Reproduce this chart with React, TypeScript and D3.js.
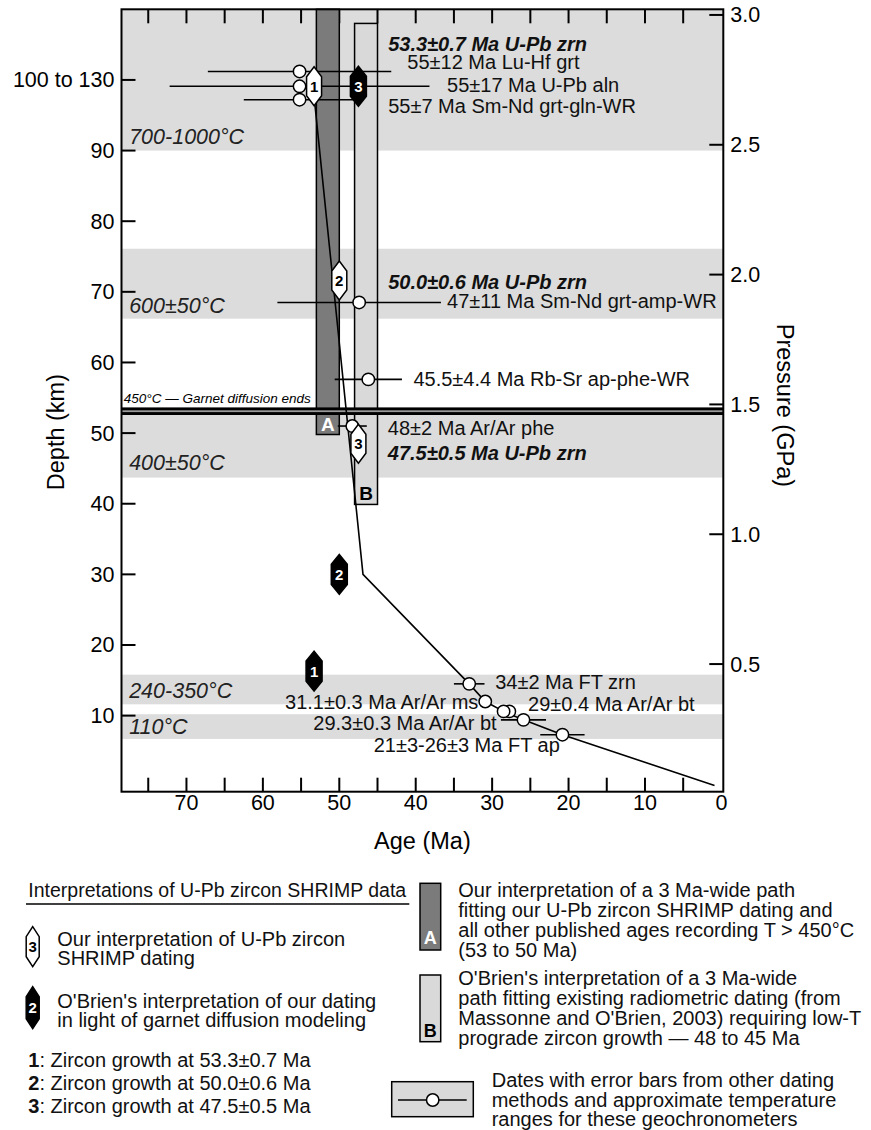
import * as d3 from "d3";

const FONT = '"Liberation Sans", Arial, Helvetica, sans-serif';

// age axis (Ma)
const ageTicks = [75, 70, 65, 60, 55, 50, 45, 40, 35, 30, 25, 20, 15, 10, 5];
const ageLabels = [70, 60, 50, 40, 30, 20, 10, 0];
// depth axis (km)
const depthTicks = [100, 90, 80, 70, 60, 50, 40, 30, 20, 10];
// pressure axis (GPa) and the depths (km) where 0.5 and 3.0 GPa sit
const pressureTicks = [0.5, 1.0, 1.5, 2.0, 2.5, 3.0];
const pressureDepthAt = [17.3, 109.2];

// temperature ranges of the geochronometers
const bandNames = ["700-1000°C", "600±50°C", "400±50°C", "240-350°C", "110°C"];
const bandTop = [110, 76.1, 53.0, 15.8, 10.2];
const bandBottom = [90, 66.2, 43.7, 11.6, 6.7];
const bandLabelDepth = [90.9, 67.0, 44.8, 12.45, 7.4];

// 3 Ma wide paths A and B
const pathAAges = [53, 50];
const pathADepths = [49.8, 110];
const pathBAges = [48, 45];
const pathBDepths = [39.9, 108];

// garnet diffusion ends at 450°C
const garnetDepth = 53.1;

// P-T-t path
const pathAge = [53.2, 46.9, 33.0, 30.9, 28.5, 25.9, 20.8, 0.9];
const pathDepth = [96.6, 30.0, 14.5, 12.0, 10.6, 9.4, 7.3, 0.1];

// dates from other methods (drawn back to front)
const dateAge = [55.2, 55.2, 55.2, 47.4, 46.2, 48.3, 33.0, 30.9, 27.75, 28.5, 25.9, 20.8];
const dateErr = [12, 17, 7.3, 10.7, 4.4, 1.9, 2, 0.3, 0.4, 0.3, 2.95, 2.9];
const dateDepth = [101.2, 99.1, 97.2, 68.5, 57.6, 51.0, 14.5, 12.0, 10.6, 10.6, 9.4, 7.3];

// U-Pb zircon SHRIMP ages: ours (white) and O'Brien's reading (black)
const zirconAge = [53.3, 50.0, 47.5];
const zirconDepthOurs = [99.1, 71.6, 48.5];
const zirconDepthOBrien = [16.3, 30.0, 99.1];

// labels of the dates
const noteText = [
  "53.3±0.7 Ma U-Pb zrn",
  "55±12 Ma Lu-Hf grt",
  "55±17 Ma U-Pb aln",
  "55±7 Ma Sm-Nd grt-gln-WR",
  "50.0±0.6 Ma U-Pb zrn",
  "47±11 Ma Sm-Nd grt-amp-WR",
  "45.5±4.4 Ma Rb-Sr ap-phe-WR",
  "48±2 Ma Ar/Ar phe",
  "47.5±0.5 Ma U-Pb zrn",
  "34±2 Ma FT zrn",
  "29±0.4 Ma Ar/Ar bt",
  "31.1±0.3 Ma Ar/Ar ms",
  "29.3±0.3 Ma Ar/Ar bt",
  "21±3-26±3 Ma FT ap",
];
const noteAge = [43.6, 41.1, 35.9, 43.6, 43.6, 35.9, 40.3, 43.65, 43.65, 29.6, 25.3, 57.1, 53.4, 45.5];
const noteDepth = [104.1, 101.5, 98.3, 95.3, 70.4, 67.7, 56.7, 49.7, 46.2, 13.7, 10.7, 11.0, 8.0, 4.9];
const noteBold = [true, false, false, false, true, false, false, false, true, false, false, false, false, false];

function hexPoints(cx: number, cy: number, w: number, h: number, k: number) {
  return [
    [cx, cy - h / 2],
    [cx + w / 2, cy - h / 2 + k],
    [cx + w / 2, cy + h / 2 - k],
    [cx, cy + h / 2],
    [cx - w / 2, cy + h / 2 - k],
    [cx - w / 2, cy - h / 2 + k],
  ].map((q) => q.join(",")).join(" ");
}

function Zircon({ cx, cy, n, dark, w = 16, h = 40 }: { cx: number; cy: number; n: number; dark: boolean; w?: number; h?: number }) {
  return (
    <g>
      <polygon points={hexPoints(cx, cy, w, h, 10)} fill={dark ? "#000" : "#fff"} stroke="#000" strokeWidth={1.5} />
      <text x={cx} y={cy + 5.5} textAnchor="middle" fontSize={15} fontWeight="bold" fill={dark ? "#fff" : "#000"}>{n}</text>
    </g>
  );
}

export default function App() {
  const x = d3.scaleLinear().domain([78.5, -0.25]).range([121.5, 723.3]);
  const y = d3.scaleLinear().domain([-0.77, 110]).range([791.7, 9.3]);
  const p = d3.scaleLinear().domain([0.5, 3.0]).range([y(pressureDepthAt[0]), y(pressureDepthAt[1])]);
  const [left, right] = x.range();
  const [bottom, top] = y.range();
  const tick = 14;

  const line = d3.line<number>().x((i) => x(pathAge[i])).y((i) => y(pathDepth[i]));

  return (
    <svg width={871} height={1130} fontFamily={FONT} style={{ position: "absolute", left: 0, top: 0 }}>
      <rect width={871} height={1130} fill="#fff" />

      {/* temperature bands */}
      {bandNames.map((b, i) => (
        <rect key={b} x={left} width={right - left} y={y(bandTop[i])} height={y(bandBottom[i]) - y(bandTop[i])} fill="#dcdcdc" />
      ))}

      {/* ticks */}
      {ageTicks.map((a) => (
        <g key={a} stroke="#000" strokeWidth={2}>
          <line x1={x(a)} x2={x(a)} y1={top} y2={top + tick} />
          <line x1={x(a)} x2={x(a)} y1={bottom} y2={bottom - tick} />
        </g>
      ))}
      {depthTicks.map((d) => (
        <line key={d} x1={left} x2={left + tick} y1={y(d)} y2={y(d)} stroke="#000" strokeWidth={2} />
      ))}
      {pressureTicks.map((v) => (
        <line key={v} x1={right - tick} x2={right} y1={p(v)} y2={p(v)} stroke="#000" strokeWidth={2} />
      ))}

      {/* paths A and B */}
      <rect x={x(pathAAges[0])} width={x(pathAAges[1]) - x(pathAAges[0])} y={y(pathADepths[1])}
        height={y(pathADepths[0]) - y(pathADepths[1])} fill="#7b7b7b" stroke="#000" strokeWidth={1.5} />
      <text x={(x(pathAAges[0]) + x(pathAAges[1])) / 2} y={y(pathADepths[0]) - 4} textAnchor="middle"
        fontSize={19} fontWeight="bold" fill="#fff">A</text>
      <rect x={x(pathBAges[0])} width={x(pathBAges[1]) - x(pathBAges[0])} y={y(pathBDepths[1])}
        height={y(pathBDepths[0]) - y(pathBDepths[1])} fill="#d9d9d9" stroke="#000" strokeWidth={1.5} />
      <text x={(x(pathBAges[0]) + x(pathBAges[1])) / 2} y={y(pathBDepths[0]) - 4} textAnchor="middle"
        fontSize={19} fontWeight="bold" fill="#000">B</text>

      {/* garnet diffusion line */}
      <rect x={left} width={right - left} y={y(garnetDepth) - 3.8} height={7.6} fill="#000" />
      <rect x={left} width={right - left} y={y(garnetDepth) - 0.9} height={1.8} fill="#9a9a9a" />
      <text x={x(78.2)} y={y(54.2)} fontSize={13.5} fontStyle="italic">450°C — Garnet diffusion ends</text>

      {/* error bars */}
      {dateAge.map((a, i) => (
        <line key={i} x1={x(a + dateErr[i])} x2={x(a - dateErr[i])} y1={y(dateDepth[i])} y2={y(dateDepth[i])}
          stroke="#000" strokeWidth={1.6} />
      ))}

      {/* P-T-t path */}
      <path d={line(d3.range(pathAge.length)) || ""} fill="none" stroke="#000" strokeWidth={1.6} />

      {/* dates */}
      {dateAge.map((a, i) => (
        <circle key={i} cx={x(a)} cy={y(dateDepth[i])} r={6.2} fill="#fff" stroke="#000" strokeWidth={1.5} />
      ))}

      {/* zircon growth */}
      {zirconAge.map((a, i) => (
        <Zircon key={"o" + i} cx={x(a)} cy={y(zirconDepthOurs[i])} n={i + 1} dark={false} w={15} h={39} />
      ))}
      {zirconAge.map((a, i) => (
        <Zircon key={"b" + i} cx={x(a)} cy={y(zirconDepthOBrien[i])} n={i + 1} dark={true} />
      ))}

      {/* band labels */}
      {bandNames.map((b, i) => (
        <text key={b} x={x(77.5)} y={y(bandLabelDepth[i])} fontSize={21.5} fontStyle="italic" fill="#222">{b}</text>
      ))}

      {/* date labels */}
      {noteText.map((t, i) => (
        <text key={t} x={x(noteAge[i])} y={y(noteDepth[i])} fontSize={20}
          fontWeight={noteBold[i] ? "bold" : "normal"} fontStyle={noteBold[i] ? "italic" : "normal"} fill="#111">{t}</text>
      ))}

      {/* frame */}
      <rect x={left} y={top} width={right - left} height={bottom - top} fill="none" stroke="#000" strokeWidth={2} />

      {/* axis labels */}
      {ageLabels.map((a) => (
        <text key={a} x={x(a)} y={bottom + 18.5} textAnchor="middle" fontSize={21.5}>{a}</text>
      ))}
      {depthTicks.map((d) => (
        <text key={d} x={left - 7} y={y(d) + 7.5} textAnchor="end" fontSize={21.5}>{d === 100 ? "100 to 130" : d}</text>
      ))}
      {pressureTicks.map((v) => (
        <text key={v} x={right + 7} y={p(v) + 7.5} fontSize={21.5}>{v.toFixed(1)}</text>
      ))}
      <text x={(left + right) / 2} y={849} textAnchor="middle" fontSize={23.5}>Age (Ma)</text>
      <text transform={`translate(64,${(y(60) + y(40)) / 2 - 1}) rotate(-90)`} textAnchor="middle" fontSize={23.5}>Depth (km)</text>
      <text transform={`translate(777,${p(1.5) + 1}) rotate(90)`} textAnchor="middle" fontSize={23.5}>Pressure (GPa)</text>

      {/* legend */}
      <g fontSize={20} fill="#111">
        <text x={28.3} y={897.3} fontSize={19.5}>Interpretations of U-Pb zircon SHRIMP data</text>
        <line x1={26} x2={409.3} y1={904} y2={904} stroke="#000" strokeWidth={1.5} />

        <Zircon cx={32.7} cy={946.7} n={3} dark={false} w={13} h={40} />
        <text x={57.3} y={946}>Our interpretation of U-Pb zircon</text>
        <text x={57.3} y={965}>SHRIMP dating</text>

        <Zircon cx={32.7} cy={1007.7} n={2} dark={true} w={13} h={42} />
        <text x={57.3} y={1008.3}>O'Brien's interpretation of our dating</text>
        <text x={57.3} y={1026.7}>in light of garnet diffusion modeling</text>

        <text x={28.3} y={1066.7}><tspan fontWeight="bold">1</tspan>: Zircon growth at 53.3±0.7 Ma</text>
        <text x={28.3} y={1090}><tspan fontWeight="bold">2</tspan>: Zircon growth at 50.0±0.6 Ma</text>
        <text x={28.3} y={1113.3}><tspan fontWeight="bold">3</tspan>: Zircon growth at 47.5±0.5 Ma</text>

        <rect x={420} y={883.3} width={20.7} height={66.7} fill="#7b7b7b" stroke="#000" strokeWidth={1.5} />
        <text x={430.3} y={944} textAnchor="middle" fontSize={18} fontWeight="bold" fill="#fff">A</text>
        <text x={458.3} y={896.7}>Our interpretation of a 3 Ma-wide path</text>
        <text x={458.3} y={916.7}>fitting our U-Pb zircon SHRIMP dating and</text>
        <text x={458.3} y={936.7}>all other published ages recording T &gt; 450°C</text>
        <text x={458.3} y={956.7}>(53 to 50 Ma)</text>

        <rect x={420} y={975} width={20.7} height={66.7} fill="#d9d9d9" stroke="#000" strokeWidth={1.5} />
        <text x={430.3} y={1037} textAnchor="middle" fontSize={18} fontWeight="bold" fill="#000">B</text>
        <text x={458.3} y={985}>O'Brien's interpretation of a 3 Ma-wide</text>
        <text x={458.3} y={1005}>path fitting existing radiometric dating (from</text>
        <text x={458.3} y={1025}>Massonne and O'Brien, 2003) requiring low-T</text>
        <text x={458.3} y={1045}>prograde zircon growth — 48 to 45 Ma</text>

        <rect x={391.7} y={1081.7} width={81.6} height={35} fill="#d9d9d9" stroke="#000" strokeWidth={1.5} />
        <line x1={398} x2={466.7} y1={1100} y2={1100} stroke="#000" strokeWidth={1.6} />
        <circle cx={432.7} cy={1100} r={6.2} fill="#fff" stroke="#000" strokeWidth={1.5} />
        <text x={491.7} y={1086.7}>Dates with error bars from other dating</text>
        <text x={491.7} y={1106.7}>methods and approximate temperature</text>
        <text x={491.7} y={1126}>ranges for these geochronometers</text>
      </g>
    </svg>
  );
}
